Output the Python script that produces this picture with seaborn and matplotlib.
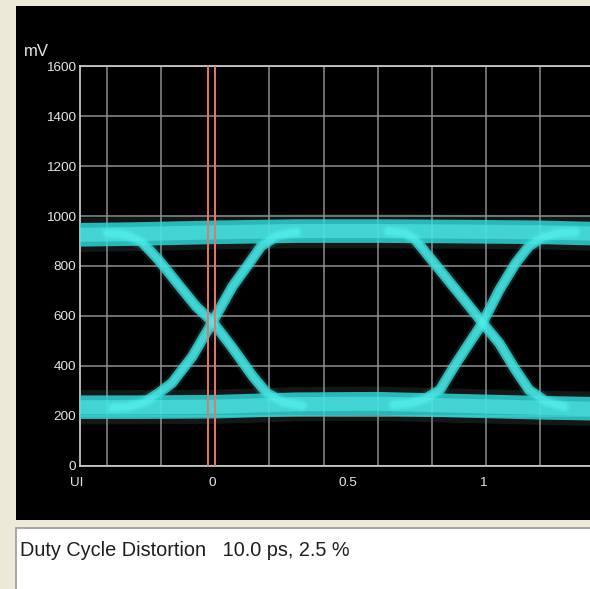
import matplotlib
matplotlib.use('Agg')
import matplotlib.pyplot as plt
from matplotlib.patches import Rectangle
from matplotlib.transforms import ScaledTranslation
import seaborn as sns

# eye diagram traces, x in UI, y in mV
level_x = [-0.5, -0.3, 0.0, 0.3, 0.6, 0.9, 1.2, 1.39]
high_mv = [925, 928, 935, 940, 940, 938, 935, 930]
low_mv = [234, 234, 236, 246, 248, 240, 232, 228]

fall1_x = [-0.40, -0.33, -0.27, -0.21, -0.13, -0.07, -0.01, 0.06, 0.14, 0.19, 0.25, 0.32]
fall1_mv = [932, 925, 895, 825, 717, 637, 576, 477, 356, 291, 255, 240]
rise1_x = [-0.38, -0.32, -0.26, -0.21, -0.16, -0.085, -0.01, 0.063, 0.126, 0.17, 0.23, 0.30]
rise1_mv = [232, 236, 255, 290, 331, 437, 576, 717, 812, 880, 922, 936]

fall2_x = [0.64, 0.70, 0.74, 0.78, 0.84, 0.92, 0.988, 1.05, 1.11, 1.16, 1.22, 1.29]
fall2_mv = [940, 932, 905, 851, 771, 664, 572, 490, 383, 303, 258, 236]
rise2_x = [0.66, 0.72, 0.78, 0.83, 0.89, 0.988, 1.05, 1.11, 1.16, 1.21, 1.27, 1.33]
rise2_mv = [244, 250, 270, 303, 410, 572, 704, 811, 880, 915, 932, 935]

grid_x = [-0.4, -0.2, 0.0, 0.2, 0.4, 0.6, 0.8, 1.0, 1.2]
y_ticks = [0, 200, 400, 600, 800, 1000, 1200, 1400, 1600]
x_ticks = [-0.5, 0.0, 0.5, 1.0]
x_labels = ['UI', '0', '0.5', '1']
marker_x = [-0.026, 0.0]
dcd_label = 'Duty Cycle Distortion   10.0 ps, 2.5 %'

sns.set_style('dark', {'axes.facecolor': 'black'})
plt.rcParams['font.family'] = ['Liberation Sans', 'DejaVu Sans']

W, H = 590, 589
fig = plt.figure(figsize=(W / 100, H / 100), dpi=100, facecolor='#ece9d8')

# black scope panel and the white readout box below it
fig.add_artist(Rectangle((16 / W, 1 - 520 / H), 1, 514 / H, transform=fig.transFigure,
                         facecolor='black', edgecolor='none', zorder=0))
fig.add_artist(Rectangle((16 / W, -0.1), 1, 0.1 + 61 / H, transform=fig.transFigure,
                         facecolor='white', edgecolor='#9a9a9a', lw=1.2, zorder=0))

ax = fig.add_axes([80 / W, 1 - 465.6 / H, 510 / W, 399.2 / H])
ax.set_facecolor('black')

# grid
for gx in grid_x:
    ax.axvline(gx, color='#8e8e8e', lw=1.1, zorder=1)
for gy in y_ticks:
    ax.axhline(gy, color='#8e8e8e', lw=1.1, zorder=1)

traces = [
    (level_x, high_mv, 17), (level_x, low_mv, 17),
    (fall1_x, fall1_mv, 7.5), (rise1_x, rise1_mv, 7.5),
    (fall2_x, fall2_mv, 7.5), (rise2_x, rise2_mv, 7.5),
]
style = dict(ax=ax, sort=False, estimator=None, solid_capstyle='round', solid_joinstyle='round')
# sparse outer hits, main cyan band, denser middle
for xs, ys, w in traces:
    sns.lineplot(x=xs, y=ys, color='#8aa6a6', lw=w * 1.45, alpha=0.14, zorder=2, **style)
for xs, ys, w in traces:
    sns.lineplot(x=xs, y=ys, color='#2ed6d6', lw=w, alpha=0.85, zorder=3, **style)
for xs, ys, w in traces:
    sns.lineplot(x=xs, y=ys, color='#5cf0ec', lw=w * 0.6, alpha=0.5, zorder=4, **style)

# marker cursors
for mx in marker_x:
    ax.axvline(mx, color='#e8746c', lw=1.4, zorder=5)

ax.set_xlim(-0.5, 1.385)
ax.set_ylim(0, 1600)
ax.set_xlabel('')
ax.set_ylabel('')
ax.set_yticks(y_ticks)
ax.set_yticklabels([str(v) for v in y_ticks])
ax.set_xticks(x_ticks)
ax.set_xticklabels(x_labels)
ax.tick_params(length=0, colors='#e6e6e6', labelsize=9.7)
ax.tick_params(axis='y', pad=3)
ax.tick_params(axis='x', pad=8)
for lab in ax.get_xticklabels():
    lab.set_transform(lab.get_transform() + ScaledTranslation(-3 / 100, 0, fig.dpi_scale_trans))
ax.grid(False)

for side in ['left', 'bottom', 'top']:
    ax.spines[side].set_visible(True)
    ax.spines[side].set_color('#d4d4d4')
    ax.spines[side].set_linewidth(1.2)
ax.spines['right'].set_visible(False)

fig.text(24 / W, 1 - 52 / H, 'mV', color='#e6e6e6', fontsize=12, va='center', ha='left')
fig.text(20 / W, 1 - 550 / H, dcd_label, color='#1e1e1e', fontsize=14.3, va='center', ha='left')

fig.savefig('out.png', dpi=100, facecolor=fig.get_facecolor())
